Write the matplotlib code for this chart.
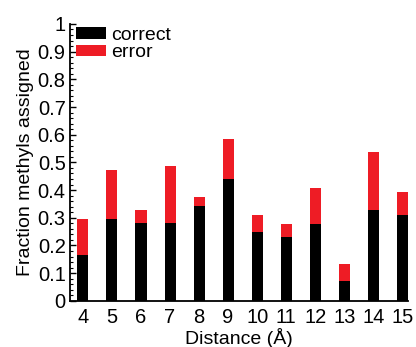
import matplotlib
matplotlib.use("Agg")
import matplotlib.pyplot as plt
from matplotlib.ticker import MultipleLocator, FuncFormatter

distances = [4, 5, 6, 7, 8, 9, 10, 11, 12, 13, 14, 15]
correct = [0.165, 0.295, 0.28, 0.28, 0.342, 0.44, 0.247, 0.232, 0.279, 0.07, 0.328, 0.31]
total = [0.296, 0.472, 0.328, 0.488, 0.376, 0.585, 0.31, 0.279, 0.407, 0.134, 0.537, 0.393]
error = [t - c for t, c in zip(total, correct)]

plt.rcParams['font.family'] = ['Liberation Sans', 'DejaVu Sans']

fig = plt.figure(figsize=(4.16, 3.47), dpi=100)
ax = fig.add_axes([0.168, 0.133, 0.813, 0.798])

w = 0.38
ax.bar(distances, correct, width=w, color='black', label='correct')
ax.bar(distances, error, width=w, bottom=correct, color='#ee1c25', label='error')

ax.set_xlim(3.55, 15.2)
ax.set_ylim(0, 1)
ax.set_xticks(distances)
ax.yaxis.set_major_locator(MultipleLocator(0.1))
ax.yaxis.set_minor_locator(MultipleLocator(0.02))
ax.yaxis.set_major_formatter(FuncFormatter(lambda v, p: "0" if abs(v) < 1e-9 else f"{v:.1f}".rstrip('0').rstrip('.')))

for s in ['top', 'right']:
    ax.spines[s].set_visible(False)
for s in ['left', 'bottom']:
    ax.spines[s].set_linewidth(1.3)

ax.tick_params(axis='y', which='major', direction='in', length=4, width=1, labelsize=14.5, pad=3)
ax.tick_params(axis='y', which='minor', direction='in', length=2.5, width=0.8)
ax.tick_params(axis='x', which='both', length=0, labelsize=14.5, pad=5)

ax.set_xlabel('Distance (Å)', fontsize=14, labelpad=1)
ax.set_ylabel('Fraction methyls assigned', fontsize=14, labelpad=3)

leg = ax.legend(loc='upper left', bbox_to_anchor=(0.0, 1.01), frameon=False, fontsize=14,
                handlelength=1.55, handleheight=0.55, handletextpad=0.25, labelspacing=0.02,
                borderaxespad=0.0, borderpad=0.3)

fig.savefig('out.png', dpi=100)
